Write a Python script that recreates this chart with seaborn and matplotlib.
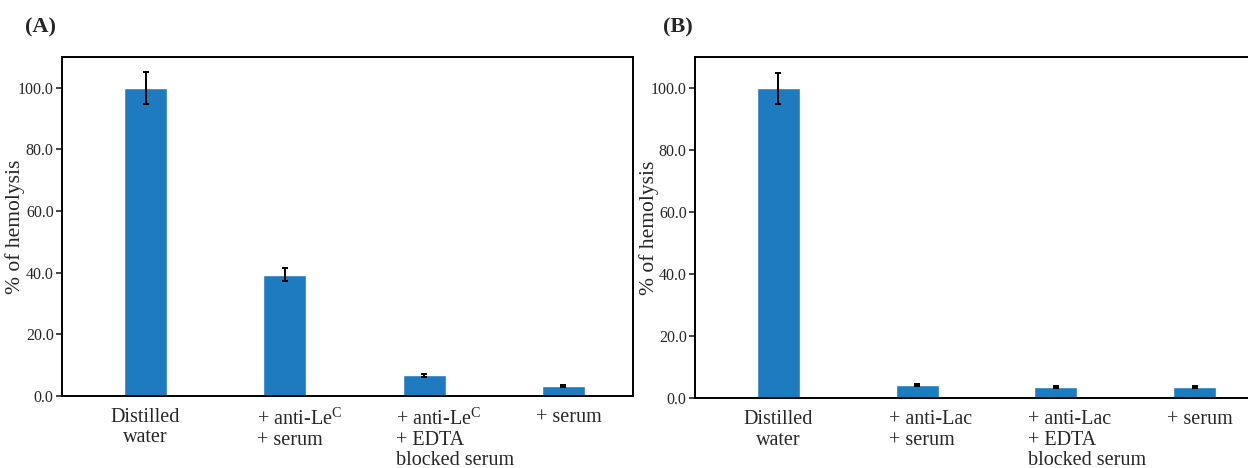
import numpy as np
import pandas as pd
import seaborn as sns
import matplotlib.pyplot as plt

# -----------------------------
# Data
# -----------------------------
labels_a = ["Distilled\nwater",
            "+ anti-Le$^{\\mathrm{C}}$\n+ serum",
            "+ anti-Le$^{\\mathrm{C}}$\n+ EDTA\nblocked serum",
            "+ serum"]
values_a = [100.0, 39.3, 6.8, 3.2]
errors_a = [5.2, 2.1, 0.5, 0.3]

labels_b = ["Distilled\nwater",
            "+ anti-Lac\n+ serum",
            "+ anti-Lac\n+ EDTA\nblocked serum",
            "+ serum"]
values_b = [100.0, 4.2, 3.5, 3.5]
errors_b = [5.0, 0.3, 0.3, 0.3]

yticks = [0, 20, 40, 60, 80, 100]

# -----------------------------
# Style
# -----------------------------
sns.set_style("white")
plt.rcParams["font.family"] = ["Liberation Serif", "DejaVu Serif"]
plt.rcParams["mathtext.fontset"] = "custom"
plt.rcParams["mathtext.rm"] = "Liberation Serif"
plt.rcParams["mathtext.it"] = "Liberation Serif:italic"

bar_color = "#1f7bbf"

fig = plt.figure(figsize=(12.48, 4.68), dpi=100)
ax_a = fig.add_axes([0.0497, 0.1538, 0.4575, 0.7244])
ax_b = fig.add_axes([0.5569, 0.1496, 0.4560, 0.7286])


def draw_panel(ax, labels, values, errors):
    df = pd.DataFrame({"group": labels, "value": values})
    sns.barplot(data=df, x="group", y="value", color=bar_color,
                width=0.31, saturation=1, errorbar=None, ax=ax)
    x = np.arange(len(values))
    ax.errorbar(x, values, yerr=errors, fmt="none", ecolor="black",
                elinewidth=1.4, capsize=2, capthick=1.4)

    ax.set_xlim(-0.6, 3.5)
    ax.set_ylim(0, 110)
    ax.set_yticks(yticks)
    ax.set_yticklabels([f"{t:.1f}" for t in yticks], fontsize=11.5)
    ax.set_xlabel("")
    ax.set_ylabel("% of hemolysis", fontsize=15.5)
    ax.yaxis.set_label_coords(-0.064, 0.5)

    # category labels under the bars
    ax.set_xticks(x)
    ax.set_xticklabels([])
    for i, lab in enumerate(labels):
        if i == 0:
            ax.text(x[i], -4, lab, ha="center", va="top", fontsize=14.5,
                    linespacing=1.08, multialignment="center")
        else:
            ax.text(x[i] - 0.2, -4, lab, ha="left", va="top", fontsize=14.5,
                    linespacing=1.08, multialignment="left")

    ax.tick_params(axis="x", length=0)
    ax.tick_params(axis="y", direction="out", length=4, width=1.2,
                   left=True, pad=2)
    for s in ax.spines.values():
        s.set_color("black")
        s.set_linewidth(1.4)


draw_panel(ax_a, labels_a, values_a, errors_a)
draw_panel(ax_b, labels_b, values_b, errors_b)

fig.text(0.02, 0.93, "(A)", fontsize=16, fontweight="bold")
fig.text(0.531, 0.93, "(B)", fontsize=16, fontweight="bold")

fig.savefig("out.png", dpi=100)
plt.close()
